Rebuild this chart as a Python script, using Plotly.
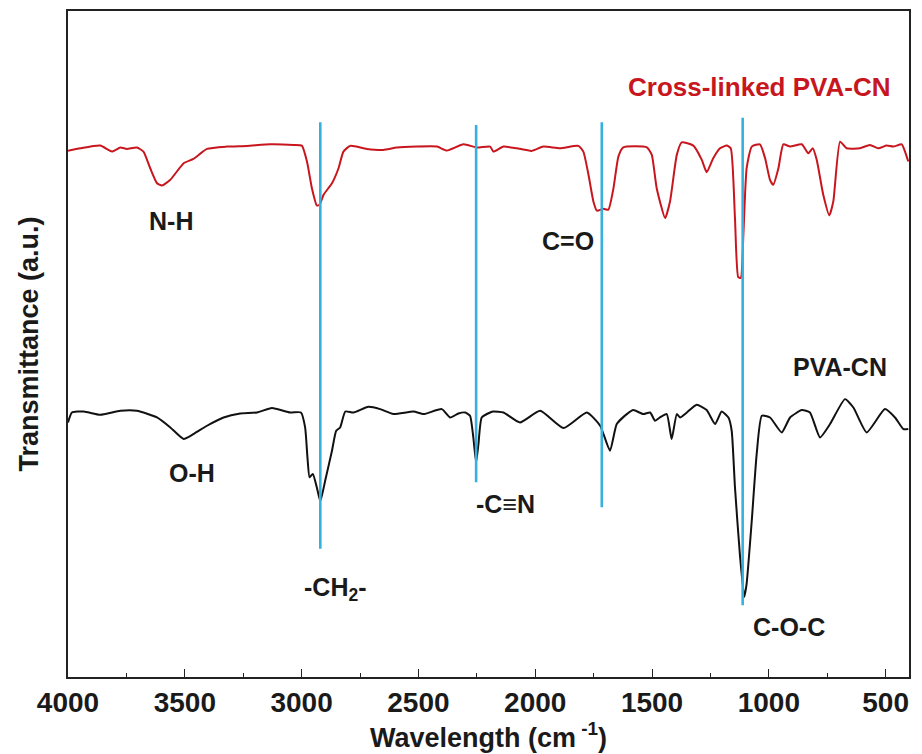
import plotly.graph_objects as go

# ---- Cross-linked PVA-CN (red) ----
xl_wn = [4000, 3947, 3862, 3812, 3776, 3748, 3705, 3677, 3648, 3619, 3598, 3562, 3505, 3463, 3405,
         3320, 3234, 3134, 3035, 2999, 2977, 2956, 2935, 2923, 2906, 2870, 2842, 2821, 2792, 2721,
         2650, 2592, 2421, 2378, 2307, 2250, 2193, 2179, 2136, 2079, 2015, 1965, 1894, 1815, 1794,
         1772, 1751, 1736, 1708, 1687, 1665, 1644, 1623, 1522, 1501, 1480, 1444, 1423, 1394, 1373,
         1323, 1287, 1266, 1238, 1209, 1180, 1163, 1145, 1131, 1120, 1109, 1095, 1073, 1038, 1016,
         995, 981, 959, 938, 909, 859, 831, 812, 795, 767, 741, 724, 695, 667, 610, 567, 532, 496,
         467, 431, 417, 403]
xl_t = [527.7, 530.3, 533.0, 527.0, 531.0, 529.7, 531.0, 527.0, 510.3, 495.3, 493.0, 498.7, 515.3, 519.7, 529.7,
        532.0, 532.7, 534.3, 533.7, 533.0, 517.0, 490.3, 473.0, 473.7, 483.7, 495.3, 510.3, 527.0, 532.7, 529.7,
        528.7, 531.0, 532.0, 528.0, 534.3, 531.0, 532.0, 527.0, 532.0, 530.3, 527.7, 532.0, 530.3, 532.7, 527.0,
        503.7, 477.0, 467.7, 469.7, 468.7, 490.3, 522.0, 531.3, 531.3, 523.7, 490.3, 460.3, 477.0, 523.7, 536.3,
        533.0, 518.7, 506.3, 520.3, 530.3, 533.0, 530.3, 460.3, 401.0, 400.3, 443.7, 510.3, 532.0, 534.3, 520.3,
        498.7, 493.7, 510.3, 534.3, 532.0, 534.3, 525.3, 530.3, 518.7, 483.7, 463.0, 477.0, 537.0, 530.3, 530.3,
        533.7, 530.3, 533.0, 532.0, 534.3, 527.0, 517.0]

# ---- PVA-CN (black) ----
pva_wn = [4000, 3983, 3933, 3862, 3776, 3705, 3619, 3562, 3505, 3463, 3405, 3334, 3263, 3191, 3127,
          3049, 3003, 2985, 2975, 2966, 2952, 2935, 2920, 2899, 2870, 2852, 2835, 2813, 2778, 2714,
          2664, 2607, 2521, 2478, 2400, 2364, 2329, 2300, 2279, 2265, 2253, 2243, 2229, 2193, 2179,
          2136, 2065, 1979, 1879, 1779, 1722, 1680, 1651, 1608, 1580, 1537, 1508, 1487, 1466, 1437,
          1416, 1394, 1380, 1351, 1309, 1266, 1230, 1202, 1173, 1159, 1145, 1123, 1105, 1095, 1073,
          1052, 1030, 995, 945, 909, 859, 824, 781, 738, 674, 638, 581, 503, 460, 424, 403]
pva_t = [255.3, 265.3, 266.3, 263.0, 267.0, 267.0, 260.3, 250.3, 238.7, 243.7, 252.0, 260.3, 264.3, 265.3, 269.7,
         265.3, 265.3, 250.3, 220.3, 200.3, 203.7, 190.3, 176.3, 197.0, 227.0, 247.0, 250.3, 266.3, 265.3, 271.0,
         268.7, 263.7, 266.3, 263.7, 268.7, 260.3, 264.3, 265.3, 262.0, 240.3, 215.3, 233.7, 260.3, 265.3, 266.3,
         265.3, 255.3, 267.0, 249.7, 265.3, 252.0, 227.0, 253.7, 263.7, 267.7, 263.7, 265.3, 257.0, 260.3, 263.7,
         238.7, 263.7, 260.3, 265.3, 273.0, 267.7, 253.7, 266.3, 260.3, 247.0, 190.3, 120.3, 80.3, 93.7, 157.0,
         223.7, 262.0, 260.3, 245.3, 260.3, 267.7, 265.3, 240.3, 253.7, 278.7, 270.3, 245.3, 268.7, 260.3, 248.7, 248.7]

# ---- marker lines (wavenumber, bottom, top) ----
mark_wn = [2920, 2253, 1715, 1112]
mark_lo = [128.7, 195.3, 170.3, 72.0]
mark_hi = [556.3, 553.7, 556.3, 561.0]

# ---- labels ----
lab_text = ["N-H", "C=O", "O-H", "-CH<sub>2</sub>-", "-C\u2261N", "C-O-C", "PVA-CN"]
lab_wn = [3558, 1859, 3468, 2856, 2127, 914, 695]
lab_t = [457, 437, 204.5, 88, 174, 50, 311]

x_ticks = [4000, 3500, 3000, 2500, 2000, 1500, 1000, 500]

RED = "#c8161e"
BLUE = "#36b0dc"
FONT = "Liberation Sans, Arial, sans-serif"

fig = go.Figure()
fig.add_trace(go.Scatter(x=xl_wn, y=xl_t, mode="lines", name="Cross-linked PVA-CN",
                         line=dict(color=RED, width=2, shape="spline", smoothing=0.5)))
fig.add_trace(go.Scatter(x=pva_wn, y=pva_t, mode="lines", name="PVA-CN",
                         line=dict(color="#111111", width=2, shape="spline", smoothing=0.5)))

for w, lo, hi in zip(mark_wn, mark_lo, mark_hi):
    fig.add_shape(type="line", xref="x", yref="y", x0=w, x1=w, y0=lo, y1=hi,
                  line=dict(color=BLUE, width=2.6), layer="above")

for t, w, v in zip(lab_text, lab_wn, lab_t):
    fig.add_annotation(x=w, y=v, text=t, showarrow=False, xref="x", yref="y",
                       font=dict(family=FONT, size=25, color="#1a1a1a", weight="bold"))

fig.add_annotation(x=474, y=592, text="Cross-linked PVA-CN", showarrow=False, xref="x", yref="y",
                   xanchor="right", font=dict(family=FONT, size=26, color=RED, weight="bold"))

# page body has an 8px margin, so the figure is sized/margined to compensate
fig.update_layout(
    width=914, height=746,
    margin=dict(l=60, r=13, t=1, b=77),
    paper_bgcolor="white", plot_bgcolor="white",
    showlegend=False,
    font=dict(family=FONT, color="#1a1a1a"),
)
fig.update_xaxes(
    range=[4000, 400], tickvals=x_ticks, ticks="inside", ticklen=8, tickwidth=1.3,
    tickcolor="#222", showgrid=False, zeroline=False,
    showline=True, linecolor="#222", linewidth=1.5, mirror=True,
    minor=dict(ticks="inside", ticklen=4, dtick=250, tick0=0, tickcolor="#222", tickwidth=1.2, showgrid=False),
    tickfont=dict(family=FONT, size=28, color="#1a1a1a", weight="bold"),
    title=dict(text="Wavelength (cm<sup> -1</sup>)", standoff=10,
               font=dict(family=FONT, size=27, color="#1a1a1a", weight="bold")),
)
fig.update_yaxes(
    range=[0, 668], showticklabels=False, ticks="", showgrid=False, zeroline=False,
    showline=True, linecolor="#222", linewidth=1.5, mirror=True,
    title=dict(text="Transmittance (a.u.)", standoff=20,
               font=dict(family=FONT, size=27, color="#1a1a1a", weight="bold")),
)

fig.write_html("out.html")
